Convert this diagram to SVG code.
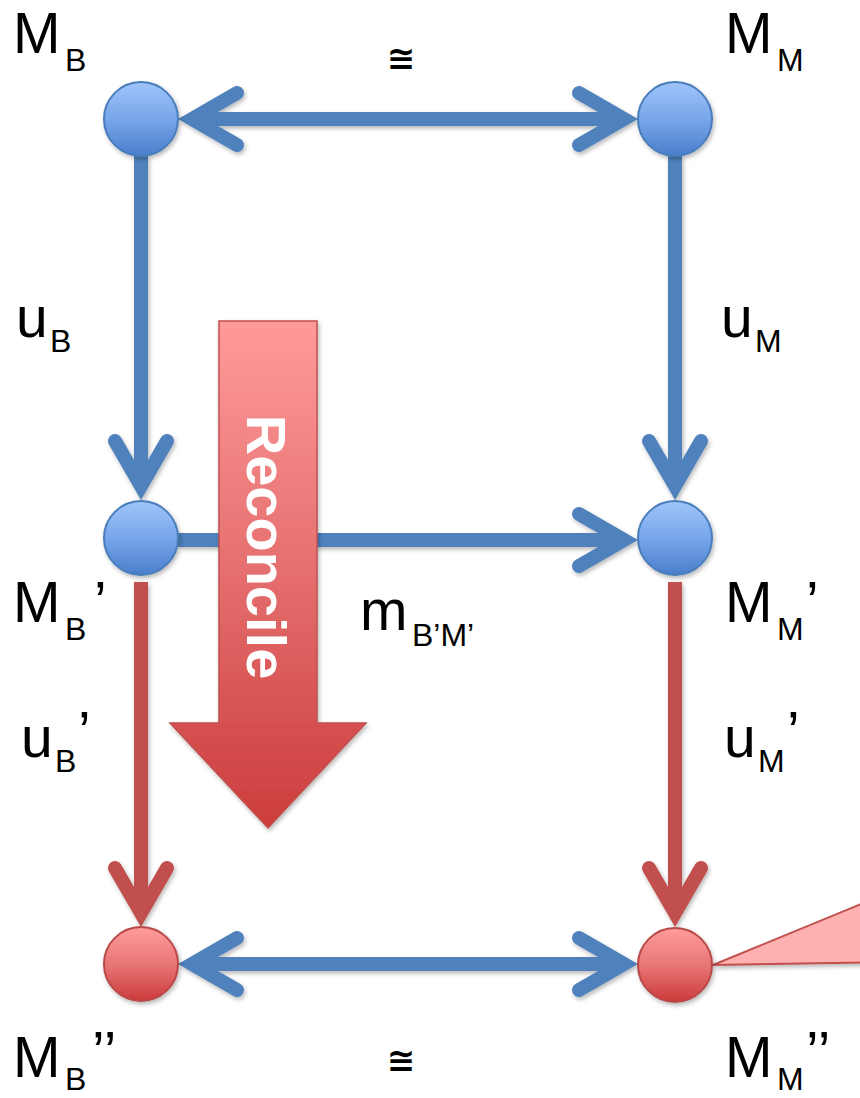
<svg xmlns="http://www.w3.org/2000/svg" width="860" height="1098" viewBox="0 0 860 1098">
  <defs>
    <linearGradient id="gBlue" x1="0" y1="0" x2="0" y2="1">
      <stop offset="0" stop-color="#a0c4fa"/>
      <stop offset="0.5" stop-color="#78a6ea"/>
      <stop offset="1" stop-color="#4a7ecb"/>
    </linearGradient>
    <linearGradient id="gRed" x1="0" y1="0" x2="0" y2="1">
      <stop offset="0" stop-color="#ff9c9c"/>
      <stop offset="0.5" stop-color="#e87676"/>
      <stop offset="1" stop-color="#cc3a3a"/>
    </linearGradient>
    <linearGradient id="gBig" x1="0" y1="0" x2="0" y2="1">
      <stop offset="0" stop-color="#ff9a9a"/>
      <stop offset="0.5" stop-color="#e56e6e"/>
      <stop offset="1" stop-color="#cc3c3c"/>
    </linearGradient>
    <filter id="sh" x="-20%" y="-20%" width="140%" height="140%">
      <feDropShadow dx="1.5" dy="2.5" stdDeviation="2" flood-color="#000" flood-opacity="0.28"/>
    </filter>
  </defs>
  <style>
    .lbl { font-family: "Liberation Sans", Arial, sans-serif; font-size: 57px; fill: #000; }
    .sub { font-size: 32px; }
    .iso { font-family: "DejaVu Sans", "Liberation Sans", sans-serif; font-size: 34px; font-weight: bold; fill: #000; }
    .cb { fill: none; stroke: #4f81bd; stroke-width: 14; stroke-linecap: butt; }
    .cr { fill: none; stroke: #c0504d; stroke-width: 14; stroke-linecap: butt; }
    .hb { fill: none; stroke: #4f81bd; stroke-width: 14; stroke-linecap: round; stroke-linejoin: miter; stroke-miterlimit: 6; }
    .hr { fill: none; stroke: #c0504d; stroke-width: 14; stroke-linecap: round; stroke-linejoin: miter; stroke-miterlimit: 6; }
    .nb { fill: url(#gBlue); stroke: #4a7ebb; stroke-width: 2; }
    .nr { fill: url(#gRed); stroke: #b94a48; stroke-width: 2; }
    .rec { font-family: "Liberation Sans", Arial, sans-serif; font-size: 56px; font-weight: bold; fill: #fff; }
  </style>

  <!-- pink wedge at bottom right -->
  <polygon id="wedge" points="713,965 900,888 900,962" fill="#ffb0b0" stroke="#c0504d" stroke-width="2" filter="url(#sh)"/>

  <g id="connectors" filter="url(#sh)">
    <line class="cb" x1="192" y1="119" x2="624" y2="119"/>
    <polyline class="hb" points="237,93 192,119 237,145"/>
    <polyline class="hb" points="579,93 624,119 579,145"/>
    <line class="cb" x1="141" y1="156" x2="141" y2="486"/>
    <polyline class="hb" points="115,441 141,486 167,441"/>
    <line class="cb" x1="675" y1="156" x2="675" y2="486"/>
    <polyline class="hb" points="649,441 675,486 701,441"/>
    <line class="cb" x1="178" y1="540" x2="624" y2="540"/>
    <polyline class="hb" points="579,514 624,540 579,566"/>
    <line class="cr" x1="141" y1="582" x2="141" y2="913"/>
    <polyline class="hr" points="115,868 141,913 167,868"/>
    <line class="cr" x1="675" y1="582" x2="675" y2="913"/>
    <polyline class="hr" points="649,868 675,913 701,868"/>
    <line class="cb" x1="192" y1="964" x2="624" y2="964"/>
    <polyline class="hb" points="237,938 192,964 237,990"/>
    <polyline class="hb" points="579,938 624,964 579,990"/>
  </g>

  <g id="reconcile" filter="url(#sh)">
    <polygon points="219,321 317,321 317,723 366,723 268,828 170,723 219,723" fill="url(#gBig)" stroke="#c0504d" stroke-width="1.5"/>
    <text class="rec" transform="translate(247,547) rotate(90)" text-anchor="middle">Reconcile</text>
  </g>

  <g id="nodeMB" filter="url(#sh)"><circle class="nb" cx="141" cy="119" r="37"/></g>
  <g id="nodeMM" filter="url(#sh)"><circle class="nb" cx="675" cy="119" r="37"/></g>
  <g id="nodeMB1" filter="url(#sh)"><circle class="nb" cx="141" cy="538" r="37"/></g>
  <g id="nodeMM1" filter="url(#sh)"><circle class="nb" cx="675" cy="538" r="37"/></g>
  <g id="nodeMB2" filter="url(#sh)"><circle class="nr" cx="141" cy="964" r="37"/></g>
  <g id="nodeMM2" filter="url(#sh)"><circle class="nr" cx="675" cy="965" r="37"/></g>

  <g id="labels">
    <text class="lbl" x="13" y="53">M<tspan class="sub" x="65" y="71">B</tspan></text>
    <text class="iso" x="401" y="70" text-anchor="middle">≅</text>
    <text class="lbl" x="725" y="53">M<tspan class="sub" x="777" y="71">M</tspan></text>

    <text class="lbl" x="16" y="337">u<tspan class="sub" x="50" y="352">B</tspan></text>
    <text class="lbl" x="721" y="337">u<tspan class="sub" x="755" y="352">M</tspan></text>

    <text class="lbl" x="13" y="622">M<tspan class="sub" x="65" y="640">B</tspan><tspan x="94" y="622">’</tspan></text>
    <text class="lbl" x="360" y="630">m<tspan class="sub" x="412" y="646">B’M’</tspan></text>
    <text class="lbl" x="725" y="622">M<tspan class="sub" x="777" y="640">M</tspan><tspan x="806" y="622">’</tspan></text>

    <text class="lbl" x="21" y="757">u<tspan class="sub" x="55" y="772">B</tspan><tspan x="78" y="752">’</tspan></text>
    <text class="lbl" x="724" y="757">u<tspan class="sub" x="758" y="772">M</tspan><tspan x="787" y="752">’</tspan></text>

    <text class="lbl" x="13" y="1077">M<tspan class="sub" x="65" y="1090">B</tspan><tspan x="92" y="1072">’’</tspan></text>
    <text class="iso" x="401" y="1072" text-anchor="middle">≅</text>
    <text class="lbl" x="725" y="1077">M<tspan class="sub" x="777" y="1090">M</tspan><tspan x="806" y="1072">’’</tspan></text>
  </g>
</svg>
